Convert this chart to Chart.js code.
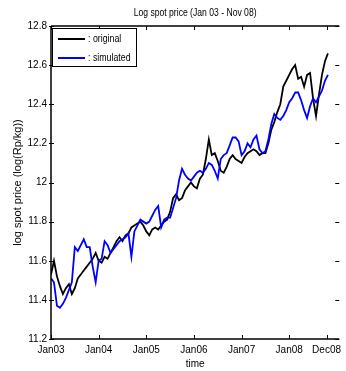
<!DOCTYPE html>
<html>
<head>
<meta charset="utf-8">
<script src="https://cdn.jsdelivr.net/npm/chart.js@4"></script>
<style>
  html, body { margin: 0; padding: 0; background: #fff; }
  canvas { display: block; }
</style>
</head>
<body>
<canvas id="chart" width="346" height="371"></canvas>
<script>
// Data, one sample every 0.75 month from Jan 03
const monthStep = 0.75;
const original = [
  11.53, 11.60, 11.52, 11.47, 11.43, 11.46, 11.48, 11.43, 11.46, 11.51,
  11.53, 11.55, 11.57, 11.59, 11.61, 11.64, 11.60, 11.59, 11.62, 11.61,
  11.64, 11.67, 11.70, 11.72, 11.70, 11.73, 11.74, 11.77, 11.78, 11.79,
  11.80, 11.78, 11.75, 11.73, 11.76, 11.77, 11.76, 11.78, 11.80, 11.81,
  11.85, 11.92, 11.94, 11.91, 11.92, 11.96, 11.98, 12.00, 11.98, 11.97,
  12.02, 12.04, 12.12, 12.22, 12.14, 12.15, 12.11, 12.06, 12.05, 12.08,
  12.12, 12.14, 12.12, 12.11, 12.10, 12.13, 12.15, 12.16, 12.17, 12.16,
  12.14, 12.15, 12.15, 12.20, 12.27, 12.31, 12.36, 12.40, 12.49, 12.52,
  12.55, 12.58, 12.60, 12.53, 12.54, 12.49, 12.55, 12.56, 12.43, 12.34,
  12.45, 12.55, 12.62, 12.66
];
const simulated = [
  11.51, 11.49, 11.37, 11.36, 11.38, 11.41, 11.45, 11.49, 11.67, 11.65,
  11.68, 11.71, 11.67, 11.67, 11.57, 11.49, 11.60, 11.61, 11.70, 11.68,
  11.64, 11.66, 11.68, 11.70, 11.71, 11.72, 11.74, 11.62, 11.75, 11.78,
  11.81, 11.80, 11.79, 11.80, 11.83, 11.86, 11.88, 11.77, 11.81, 11.82,
  11.82, 11.87, 11.92, 12.01, 12.07, 12.04, 12.02, 12.01, 12.03, 12.05,
  12.06, 12.05, 12.07, 12.10, 12.09, 12.06, 12.02, 12.12, 12.14, 12.15,
  12.19, 12.23, 12.23, 12.21, 12.14, 12.16, 12.20, 12.18, 12.22, 12.24,
  12.17, 12.15, 12.16, 12.22, 12.30, 12.35, 12.33, 12.32, 12.34, 12.37,
  12.41, 12.43, 12.46, 12.46, 12.42, 12.37, 12.33, 12.39, 12.43, 12.41,
  12.44, 12.47, 12.52, 12.55
];

// Axis ticks
const tickMonths = [0, 12, 24, 36, 48, 60, 69.4];
const tickLabels = ['Jan03', 'Jan04', 'Jan05', 'Jan06', 'Jan07', 'Jan08', 'Dec08'];
const yTicks = [11.2, 11.4, 11.6, 11.8, 12, 12.2, 12.4, 12.6, 12.8];

const FONT = '"Liberation Sans", Arial, sans-serif';

const toPoints = values => values.map((v, i) => ({ x: i * monthStep, y: v }));

// draw text squeezed horizontally, like the narrow MATLAB font
function narrowText(ctx, text, x, y, squeeze) {
  ctx.save();
  ctx.translate(x, y);
  ctx.scale(squeeze, 1);
  ctx.fillText(text, 0, 0);
  ctx.restore();
}

// Title, box, inward ticks and legend in MATLAB style
const matlabFrame = {
  id: 'matlabFrame',
  afterDraw(chart) {
    const { ctx, chartArea: a, scales: { x, y } } = chart;
    ctx.save();

    // title
    ctx.fillStyle = '#000';
    ctx.font = '10px ' + FONT;
    ctx.textAlign = 'center';
    ctx.textBaseline = 'middle';
    narrowText(ctx, 'Log spot price (Jan 03 - Nov 08)', (a.left + a.right) / 2, 13, 0.86);

    // box (right edge lies at the canvas border)
    ctx.strokeStyle = '#000';
    ctx.lineWidth = 1.5;
    ctx.beginPath();
    ctx.moveTo(a.left, a.top);
    ctx.lineTo(a.right, a.top);
    ctx.moveTo(a.left, a.top);
    ctx.lineTo(a.left, a.bottom);
    ctx.lineTo(a.right, a.bottom);
    ctx.stroke();

    // ticks
    ctx.lineWidth = 1;
    ctx.beginPath();
    tickMonths.forEach(m => {
      const px = Math.round(x.getPixelForValue(m)) + 0.5;
      ctx.moveTo(px, a.bottom); ctx.lineTo(px, a.bottom - 4);
      ctx.moveTo(px, a.top); ctx.lineTo(px, a.top + 4);
    });
    yTicks.forEach(v => {
      const py = Math.round(y.getPixelForValue(v)) + 0.5;
      ctx.moveTo(a.left - 2, py); ctx.lineTo(a.left + 3, py);
      ctx.moveTo(a.right, py); ctx.lineTo(a.right - 4, py);
    });
    ctx.stroke();

    // legend
    const lx = 52.5, ly = 28.5, lw = 84, lh = 38;
    ctx.fillStyle = '#fff';
    ctx.fillRect(lx, ly, lw, lh);
    ctx.lineWidth = 1;
    ctx.strokeStyle = '#000';
    ctx.strokeRect(lx, ly, lw, lh);
    ctx.font = '11px ' + FONT;
    ctx.textAlign = 'left';
    const rows = [39, 58];
    const sets = chart.data.datasets.slice().sort((p, q) => q.order - p.order);
    sets.forEach((ds, i) => {
      ctx.strokeStyle = ds.borderColor;
      ctx.lineWidth = 2;
      ctx.beginPath();
      ctx.moveTo(58, rows[i]);
      ctx.lineTo(85, rows[i]);
      ctx.stroke();
      ctx.fillStyle = '#000';
      narrowText(ctx, ': ' + ds.label, 88, rows[i], 0.8);
    });

    ctx.restore();
  }
};

new Chart(document.getElementById('chart').getContext('2d'), {
  type: 'line',
  data: {
    datasets: [
      {
        label: 'original',
        data: toPoints(original),
        borderColor: '#000000',
        borderWidth: 1.8,
        pointRadius: 0,
        tension: 0,
        order: 1
      },
      {
        label: 'simulated',
        data: toPoints(simulated),
        borderColor: '#0000ff',
        borderWidth: 1.8,
        pointRadius: 0,
        tension: 0,
        order: 0
      }
    ]
  },
  options: {
    responsive: false,
    devicePixelRatio: 1,
    animation: false,
    layout: { padding: { top: 26, right: 0, left: 0, bottom: 0 } },
    plugins: {
      legend: { display: false },
      title: { display: false },
      tooltip: { enabled: false }
    },
    scales: {
      x: {
        type: 'linear',
        min: 0,
        max: 72.6,
        grid: { display: false, drawTicks: false },
        border: { display: false },
        afterBuildTicks: scale => { scale.ticks = tickMonths.map(v => ({ value: v })); },
        afterFit: scale => { scale.height = 32; },
        ticks: {
          padding: 5,
          maxRotation: 0,
          autoSkip: false,
          color: '#000',
          font: { family: FONT, size: 10 },
          callback: value => tickLabels[tickMonths.indexOf(value)]
        },
        title: {
          display: true,
          text: 'time',
          color: '#000',
          font: { family: FONT, size: 10 },
          padding: { top: 0, bottom: 1 }
        }
      },
      y: {
        min: 11.2,
        max: 12.8,
        grid: { display: false, drawTicks: false },
        border: { display: false },
        afterBuildTicks: scale => { scale.ticks = yTicks.map(v => ({ value: v })); },
        afterFit: scale => { scale.width = 51; },
        ticks: {
          padding: 4,
          color: '#000',
          font: { family: FONT, size: 10 },
          callback: value => String(+value.toFixed(1))
        },
        title: {
          display: true,
          text: 'log spot price (log(Rp/kg))',
          color: '#000',
          font: { family: FONT, size: 11 },
          padding: { top: 11, bottom: 0 }
        }
      }
    }
  },
  plugins: [matlabFrame]
});
</script>
</body>
</html>
